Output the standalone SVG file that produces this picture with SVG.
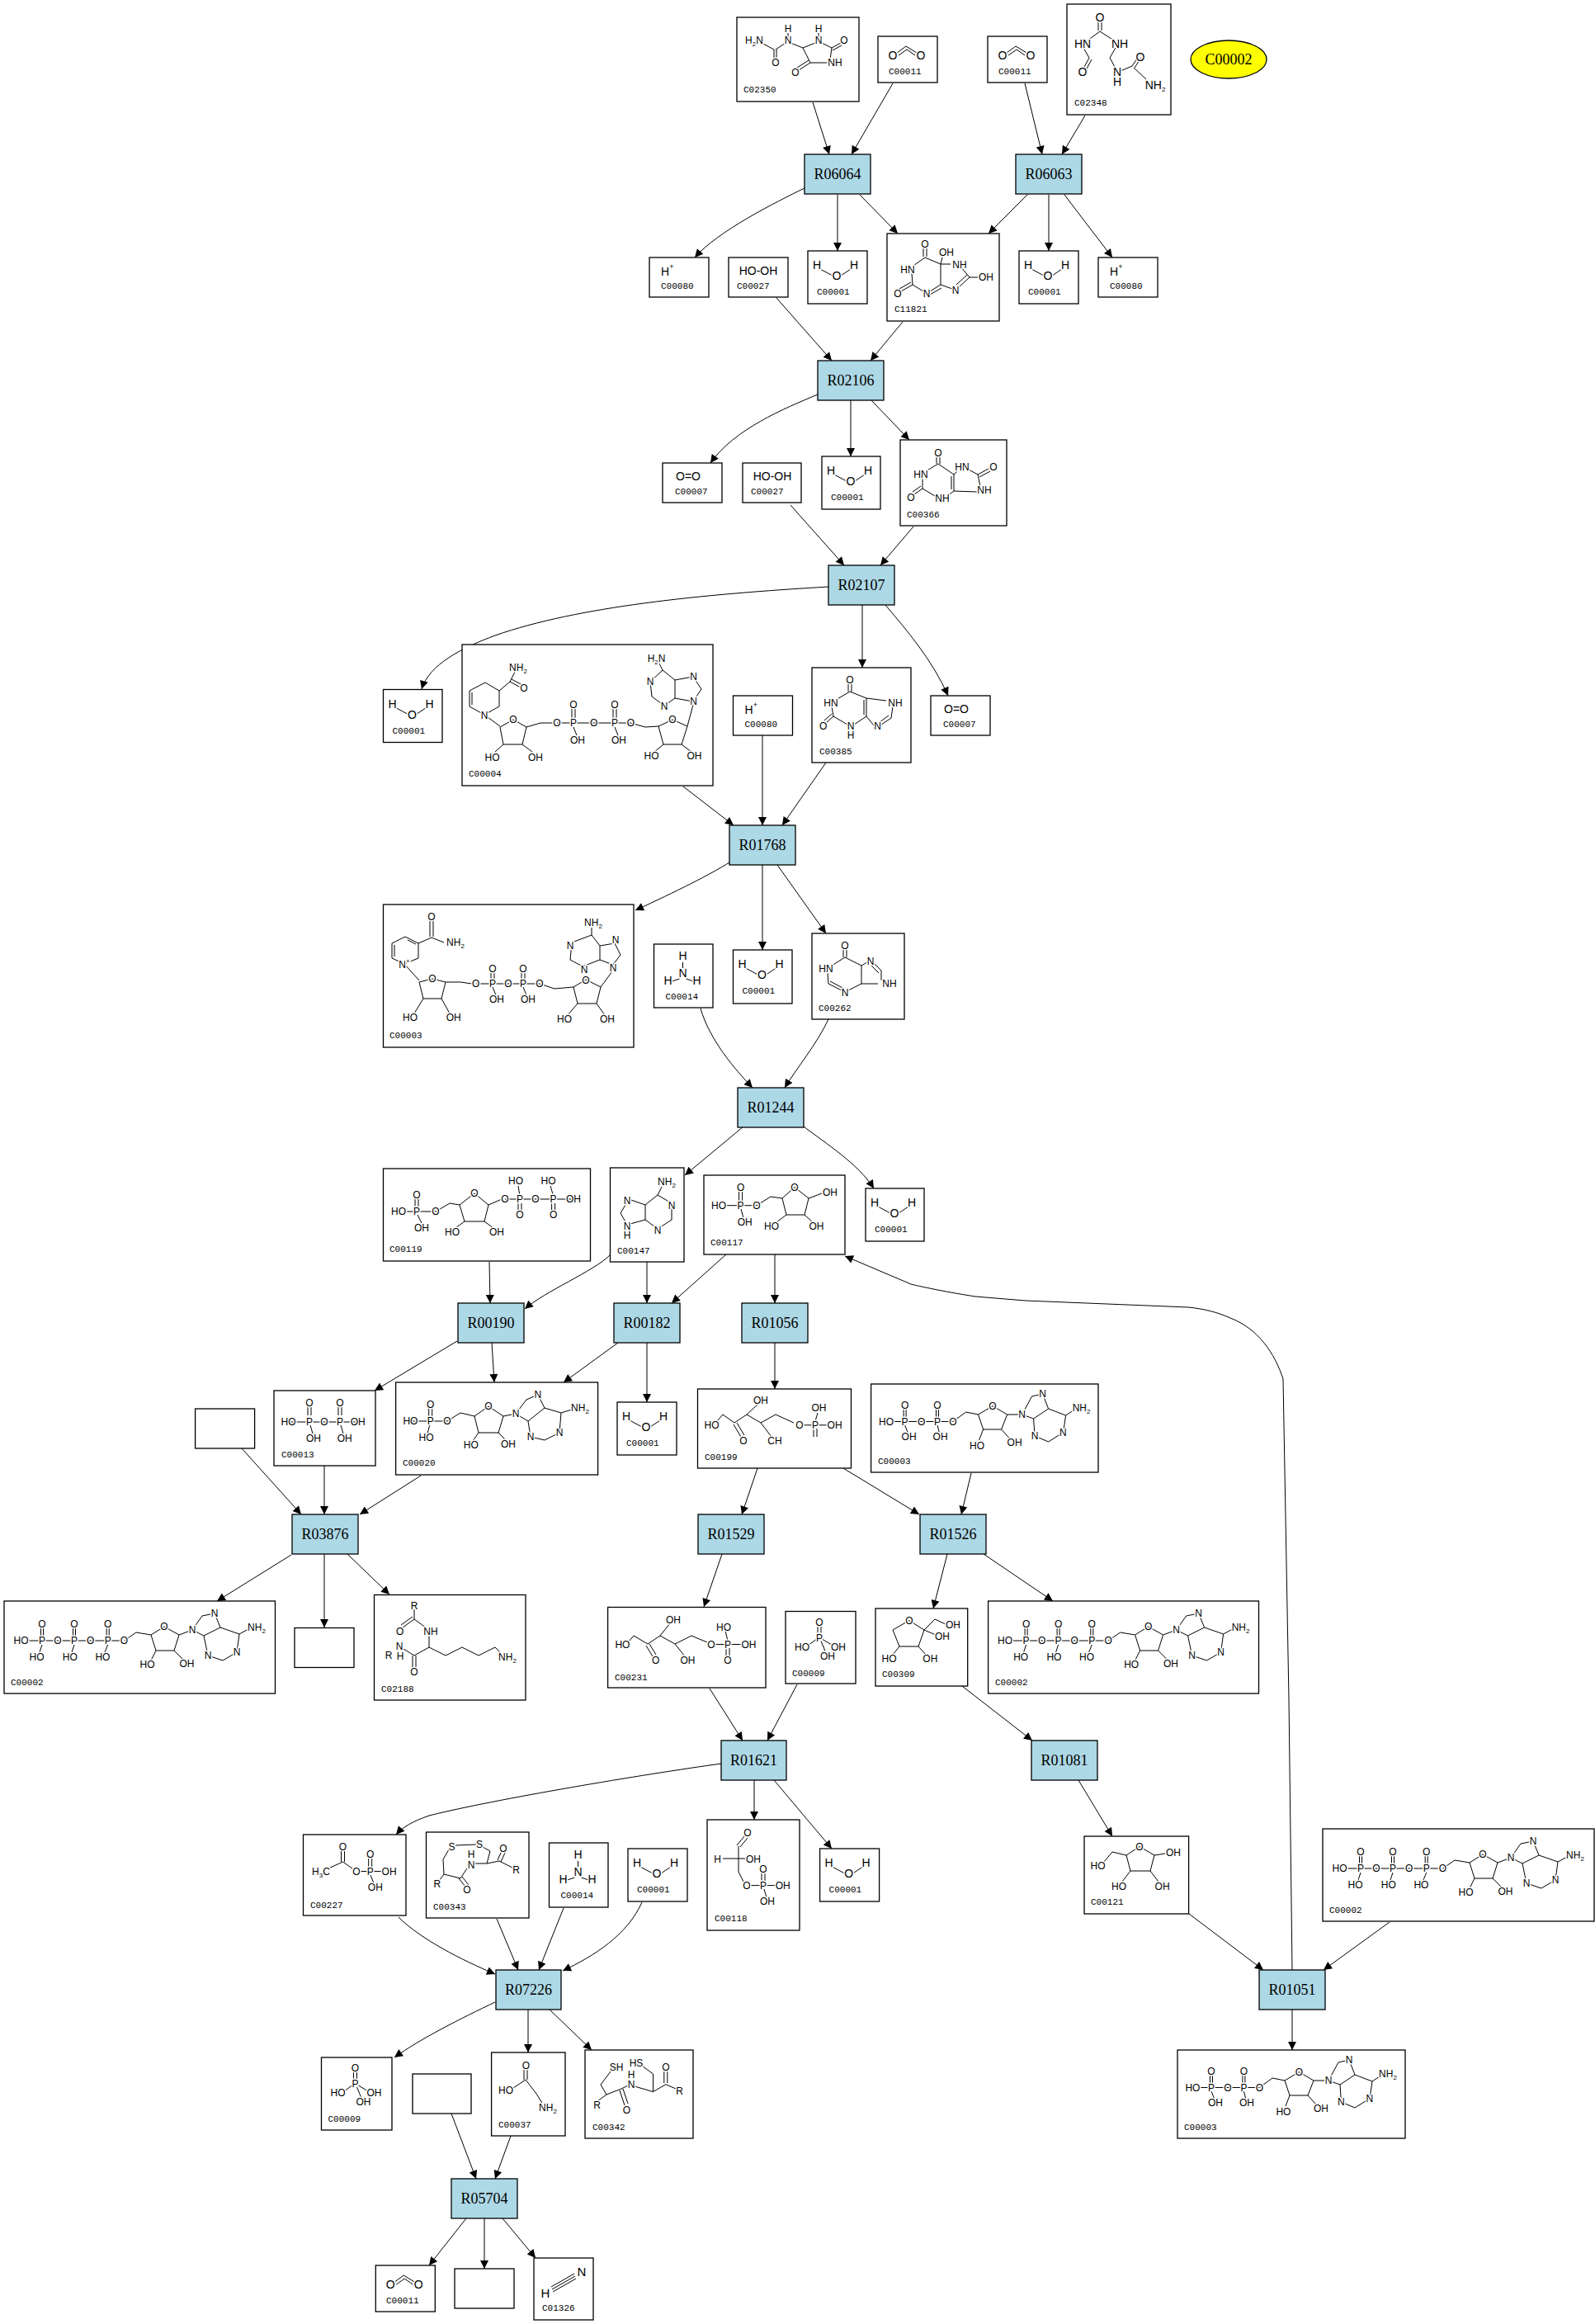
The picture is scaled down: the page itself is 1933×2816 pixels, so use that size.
<svg xmlns="http://www.w3.org/2000/svg" width="1933" height="2816" viewBox="0 0 1933 2816">
<style>
.bg{fill:#fff}
.rn{fill:#add8e6;stroke:#000;stroke-width:1.3}
.cb{fill:#fff;stroke:#000;stroke-width:1.3}
.rt{font-family:"Liberation Serif",serif;font-size:18px;text-anchor:middle;fill:#000}
.lb{font-family:"Liberation Mono",monospace;font-size:11px;fill:#000}
.a{font-family:"Liberation Sans",Arial,sans-serif;font-size:12px;text-anchor:middle;fill:#000;paint-order:stroke;stroke:#fff;stroke-width:3px;stroke-linejoin:round}
.s{font-family:"Liberation Sans",Arial,sans-serif;font-size:14px;text-anchor:middle;fill:#000;paint-order:stroke;stroke:#fff;stroke-width:3px;stroke-linejoin:round}
.b{fill:none;stroke:#000;stroke-width:1}
.e{fill:none;stroke:#000;stroke-width:1}
.sub{font-size:8px}
</style>
<defs>
<marker id="arr" viewBox="0 0 10 10" refX="10" refY="5" markerUnits="userSpaceOnUse" markerWidth="12" markerHeight="10" orient="auto"><path d="M0,0 L10,5 L0,10 z" fill="#000"/></marker>
<g id="h2o"><path class="b" d="M15,22 L30,30 M40,30 L52,22"/><text class="s" x="11" y="22">H</text><text class="s" x="35" y="35">O</text><text class="s" x="56" y="22">H</text></g>
<g id="co2"><path class="b" d="M23,20 L34,12 L47,20 M25,23 L35,16 L45,23"/><text class="s" x="18" y="28">O</text><text class="s" x="52" y="28">O</text></g>
<g id="hp"><text class="s" x="19" y="22">H</text><text class="a" x="27" y="14" style="font-size:9px">+</text></g>
<g id="nh3"><path class="b" d="M35,22 L35,29 M31,42 L22,45 M39,42 L48,45"/><text class="s" x="35" y="19">H</text><text class="s" x="35" y="40">N</text><text class="s" x="17" y="49">H</text><text class="s" x="52" y="49">H</text></g>
<g id="pi"><path class="b" d="M39,17 L39,26 M43,17 L43,26 M37,34 L29,40 M45,34 L55,40 M43,36 L48,48"/><text class="a" x="41" y="17">O</text><text class="a" x="41" y="36">P</text><text class="a" x="20" y="47">HO</text><text class="a" x="64" y="47">OH</text><text class="a" x="51" y="58">OH</text></g>
<g id="atp">
<path class="b" d="M44.5,32 L44.5,43 M47.5,32 L47.5,43 M83.5,32 L83.5,43 M86.5,32 L86.5,43 M124.2,32 L124.2,43 M127.2,32 L127.2,43 M28,48 L140,48 M46,53 L43,62 M85,53 L82,62 M125.7,53 L122,62 M145.5,48 L160,38 L178,41 M194,31 L178,41 L184,60 L206,60 L212,41 Z M184,60 L178,72 M206,60 L217,71 M212,41 L228,35 M228,35 L240,18 L255,15 L262,32 L242,42 Z M262,32 L285,40 L282,62 L265,72 L247,66 L242,42 M285,40 L298,33"/>
<text class="a" x="46" y="31.5">O</text><text class="a" x="85" y="31.5">O</text><text class="a" x="125.7" y="31.5">O</text>
<text class="a" x="20.5" y="52">HO</text><text class="a" x="46" y="52">P</text><text class="a" x="65" y="52">O</text><text class="a" x="85" y="52">P</text><text class="a" x="104.7" y="52">O</text><text class="a" x="125.7" y="52">P</text><text class="a" x="145.5" y="52">O</text>
<text class="a" x="39.6" y="71.5">HO</text><text class="a" x="79.8" y="71.5">HO</text><text class="a" x="119.4" y="71.5">HO</text>
<text class="a" x="194" y="34.7">O</text><text class="a" x="228" y="39">N</text><text class="a" x="255" y="19">N</text><text class="a" x="306" y="36">NH<tspan class="sub" dy="3">2</tspan></text><text class="a" x="282" y="66">N</text><text class="a" x="247" y="70">N</text>
<text class="a" x="173.6" y="81">HO</text><text class="a" x="221.4" y="79.7">OH</text>
</g>
<g id="adp">
<path class="b" d="M39.5,30 L39.5,41 M42.5,30 L42.5,41 M78.9,30 L78.9,41 M81.9,30 L81.9,41 M26,45.5 L99,45.5 M41,50 L45,60 M80.4,50 L83,60 M99.4,45.5 L115,34 L130,37 M147.4,26.6 L130,37 L136,55 L158,55 L165,37 Z M136,55 L131,68 M158,55 L168,66 M165,37 L183,37 M183,37 L195,15 L208,12 L215,30 L197,42 Z M215,30 L236,38 L233,58.7 L215,70 L198.4,63 L197,42 M236,38 L248,30"/>
<text class="a" x="41" y="29.5">O</text><text class="a" x="80.4" y="29.5">O</text>
<text class="a" x="18.4" y="49.5">HO</text><text class="a" x="41" y="49.5">P</text><text class="a" x="61" y="49.5">O</text><text class="a" x="80.4" y="49.5">P</text><text class="a" x="99.4" y="49.5">O</text>
<text class="a" x="46" y="68">OH</text><text class="a" x="84" y="68">OH</text>
<text class="a" x="147.4" y="30.6">O</text><text class="a" x="183" y="41">N</text><text class="a" x="208" y="16">N</text><text class="a" x="255" y="33">NH<tspan class="sub" dy="3">2</tspan></text><text class="a" x="232.8" y="62.7">N</text><text class="a" x="198.4" y="67">N</text>
<text class="a" x="128.4" y="78.8">HO</text><text class="a" x="174" y="75">OH</text>
</g>
</defs>
<rect class="bg" x="0" y="0" width="1933" height="2816"/>

<g id="connectors">
<path class="e" marker-end="url(#arr)" d="M985,124 L1005,187"/>
<path class="e" marker-end="url(#arr)" d="M1082,101 L1032,187"/>
<path class="e" marker-end="url(#arr)" d="M1242,101 L1263,187"/>
<path class="e" marker-end="url(#arr)" d="M1315,140 L1287,187"/>
<path class="e" marker-end="url(#arr)" d="M975,228 C940,245 870,280 842,312"/>
<path class="e" marker-end="url(#arr)" d="M1015,236 L1015,304"/>
<path class="e" marker-end="url(#arr)" d="M1042,236 L1088,283"/>
<path class="e" marker-end="url(#arr)" d="M1245,236 L1198,283"/>
<path class="e" marker-end="url(#arr)" d="M1271,236 L1271,304"/>
<path class="e" marker-end="url(#arr)" d="M1290,236 L1348,312"/>
<path class="e" marker-end="url(#arr)" d="M941,361 L1008,437"/>
<path class="e" marker-end="url(#arr)" d="M1094,390 L1055,437"/>
<path class="e" marker-end="url(#arr)" d="M991,478 C950,495 890,520 861,561"/>
<path class="e" marker-end="url(#arr)" d="M1031,485 L1031,553"/>
<path class="e" marker-end="url(#arr)" d="M1056,485 L1102,533"/>
<path class="e" marker-end="url(#arr)" d="M958,612 L1023,685"/>
<path class="e" marker-end="url(#arr)" d="M1107,638 L1067,685"/>
<path class="e" marker-end="url(#arr)" d="M1004,711 C850,720 700,735 600,770 C560,785 520,805 511,835"/>
<path class="e" marker-end="url(#arr)" d="M1045,733 L1045,809"/>
<path class="e" marker-end="url(#arr)" d="M1073,733 C1100,765 1130,800 1149,843"/>
<path class="e" marker-end="url(#arr)" d="M828,953 L889,1000"/>
<path class="e" marker-end="url(#arr)" d="M924,891 L924,1000"/>
<path class="e" marker-end="url(#arr)" d="M1001,924 L948,1000"/>
<path class="e" marker-end="url(#arr)" d="M884,1045 C860,1060 820,1080 770,1103"/>
<path class="e" marker-end="url(#arr)" d="M924,1048 L924,1151"/>
<path class="e" marker-end="url(#arr)" d="M942,1048 L1001,1131"/>
<path class="e" marker-end="url(#arr)" d="M849,1222 C860,1260 890,1295 912,1318"/>
<path class="e" marker-end="url(#arr)" d="M1004,1235 C990,1265 965,1295 951,1318"/>
<path class="e" marker-end="url(#arr)" d="M901,1365 L830,1424"/>
<path class="e" marker-end="url(#arr)" d="M974,1365 C1000,1385 1040,1410 1059,1440"/>
<path class="e" marker-end="url(#arr)" d="M593,1529 L594,1579"/>
<path class="e" marker-end="url(#arr)" d="M739,1521 C720,1540 660,1565 636,1586"/>
<path class="e" marker-end="url(#arr)" d="M784,1529 L784,1579"/>
<path class="e" marker-end="url(#arr)" d="M880,1520 L814,1579"/>
<path class="e" marker-end="url(#arr)" d="M939,1520 L939,1579"/>
<path class="e" marker-end="url(#arr)" d="M554,1625 L454,1685"/>
<path class="e" marker-end="url(#arr)" d="M596,1627 L599,1675"/>
<path class="e" marker-end="url(#arr)" d="M749,1627 L683,1675"/>
<path class="e" marker-end="url(#arr)" d="M784,1627 L784,1699"/>
<path class="e" marker-end="url(#arr)" d="M939,1627 L939,1683"/>
<path class="e" marker-end="url(#arr)" d="M293,1755 L365,1835"/>
<path class="e" marker-end="url(#arr)" d="M393,1776 L393,1835"/>
<path class="e" marker-end="url(#arr)" d="M510,1788 L436,1835"/>
<path class="e" marker-end="url(#arr)" d="M353,1884 L263,1940"/>
<path class="e" marker-end="url(#arr)" d="M393,1883 L393,1972"/>
<path class="e" marker-end="url(#arr)" d="M421,1883 L472,1932"/>
<path class="e" marker-end="url(#arr)" d="M918,1779 L899,1835"/>
<path class="e" marker-end="url(#arr)" d="M875,1883 L853,1947"/>
<path class="e" marker-end="url(#arr)" d="M1022,1779 L1114,1835"/>
<path class="e" marker-end="url(#arr)" d="M1177,1785 L1165,1835"/>
<path class="e" marker-end="url(#arr)" d="M1148,1883 L1131,1949"/>
<path class="e" marker-end="url(#arr)" d="M1192,1883 L1276,1940"/>
<path class="e" marker-end="url(#arr)" d="M1566,2387 L1562,2060 L1555,1671 C1545,1640 1525,1610 1491,1597 C1475,1590 1460,1586 1440,1584 L1243,1576 L1182,1571 C1150,1566 1120,1560 1104,1556 L1024,1522"/>
<path class="e" marker-end="url(#arr)" d="M860,2046 L900,2109"/>
<path class="e" marker-end="url(#arr)" d="M966,2041 L930,2109"/>
<path class="e" marker-end="url(#arr)" d="M874,2137 C780,2150 600,2180 520,2200 C500,2207 488,2214 480,2223"/>
<path class="e" marker-end="url(#arr)" d="M914,2157 L914,2205"/>
<path class="e" marker-end="url(#arr)" d="M938,2157 L1008,2240"/>
<path class="e" marker-end="url(#arr)" d="M483,2323 C510,2350 560,2375 600,2392"/>
<path class="e" marker-end="url(#arr)" d="M602,2325 L628,2387"/>
<path class="e" marker-end="url(#arr)" d="M683,2312 L653,2387"/>
<path class="e" marker-end="url(#arr)" d="M778,2305 C760,2345 720,2370 682,2388"/>
<path class="e" marker-end="url(#arr)" d="M600,2426 C560,2445 510,2470 478,2493"/>
<path class="e" marker-end="url(#arr)" d="M640,2435 L640,2487"/>
<path class="e" marker-end="url(#arr)" d="M666,2435 L717,2484"/>
<path class="e" marker-end="url(#arr)" d="M547,2561 L577,2640"/>
<path class="e" marker-end="url(#arr)" d="M619,2588 L600,2640"/>
<path class="e" marker-end="url(#arr)" d="M565,2688 L520,2745"/>
<path class="e" marker-end="url(#arr)" d="M587,2688 L587,2749"/>
<path class="e" marker-end="url(#arr)" d="M609,2688 L649,2736"/>
<path class="e" marker-end="url(#arr)" d="M1166,2043 L1251,2109"/>
<path class="e" marker-end="url(#arr)" d="M1307,2157 L1348,2225"/>
<path class="e" marker-end="url(#arr)" d="M1441,2319 L1531,2387"/>
<path class="e" marker-end="url(#arr)" d="M1684,2329 L1604,2387"/>
<path class="e" marker-end="url(#arr)" d="M1566,2435 L1566,2484"/>
</g>

<!-- reactions -->
<g id="R06064"><rect class="rn" x="975" y="187" width="80" height="48"/><text class="rt" x="1015" y="217">R06064</text></g>
<g id="R06063"><rect class="rn" x="1231" y="187" width="80" height="48"/><text class="rt" x="1271" y="217">R06063</text></g>
<g id="R02106"><rect class="rn" x="991" y="437" width="80" height="48"/><text class="rt" x="1031" y="467">R02106</text></g>
<g id="R02107"><rect class="rn" x="1004" y="685" width="80" height="48"/><text class="rt" x="1044" y="715">R02107</text></g>
<g id="R01768"><rect class="rn" x="884" y="1000" width="80" height="48"/><text class="rt" x="924" y="1030">R01768</text></g>
<g id="R01244"><rect class="rn" x="894" y="1318" width="80" height="48"/><text class="rt" x="934" y="1348">R01244</text></g>
<g id="R00190"><rect class="rn" x="555" y="1579" width="80" height="48"/><text class="rt" x="595" y="1609">R00190</text></g>
<g id="R00182"><rect class="rn" x="744" y="1579" width="80" height="48"/><text class="rt" x="784" y="1609">R00182</text></g>
<g id="R01056"><rect class="rn" x="899" y="1579" width="80" height="48"/><text class="rt" x="939" y="1609">R01056</text></g>
<g id="R03876"><rect class="rn" x="354" y="1835" width="80" height="48"/><text class="rt" x="394" y="1865">R03876</text></g>
<g id="R01529"><rect class="rn" x="846" y="1835" width="80" height="48"/><text class="rt" x="886" y="1865">R01529</text></g>
<g id="R01526"><rect class="rn" x="1115" y="1835" width="80" height="48"/><text class="rt" x="1155" y="1865">R01526</text></g>
<g id="R01621"><rect class="rn" x="874" y="2109" width="79" height="48"/><text class="rt" x="913.5" y="2139">R01621</text></g>
<g id="R01081"><rect class="rn" x="1250" y="2109" width="80" height="48"/><text class="rt" x="1290" y="2139">R01081</text></g>
<g id="R07226"><rect class="rn" x="601" y="2387" width="79" height="48"/><text class="rt" x="640.5" y="2417">R07226</text></g>
<g id="R01051"><rect class="rn" x="1526" y="2387" width="80" height="48"/><text class="rt" x="1566" y="2417">R01051</text></g>
<g id="R05704"><rect class="rn" x="547" y="2640" width="80" height="48"/><text class="rt" x="587" y="2670">R05704</text></g>

<g id="C00002_iso"><ellipse cx="1489" cy="72" rx="46" ry="23" fill="#ffff00" stroke="#000" stroke-width="1.3"/><text class="rt" x="1489" y="78">C00002</text></g>

<!-- compounds -->
<g id="C02350"><rect class="cb" x="893" y="21" width="148" height="102"/>
<path class="b" d="M923,52 L938,60 M938,60 L938,72 M941,60 L941,72 M940,60 L952,52 M955,45 L955,40 M958,52 L973,58 L988,52 M992,45 L992,40 M996,52 L1008,58 M1008,58 L1019,52 M1009,61 L1020,55 M1008,58 L1006,72 M1002,76 L982,76 L973,58 M982,76 L968,85 M980,73 L966,82"/>
<text class="a" x="914" y="53">H<tspan class="sub" dy="3">2</tspan><tspan dy="-3">N</tspan></text><text class="a" x="955" y="39">H</text><text class="a" x="955" y="53">N</text><text class="a" x="992" y="39">H</text><text class="a" x="992" y="53">N</text><text class="a" x="1023" y="53">O</text><text class="a" x="1012" y="80">NH</text><text class="a" x="940" y="80">O</text><text class="a" x="964" y="92">O</text>
<text class="lb" x="901" y="112">C02350</text></g>

<g id="C00011_a"><rect class="cb" x="1064" y="44" width="72" height="56"/><use href="#co2" x="1064" y="44"/><text class="lb" x="1077" y="90">C00011</text></g>
<g id="C00011_b"><rect class="cb" x="1197" y="44" width="72" height="56"/><use href="#co2" x="1197" y="44"/><text class="lb" x="1210" y="90">C00011</text></g>

<g id="C02348"><rect class="cb" x="1293" y="5" width="126" height="134"/>
<path class="b" d="M1331,25 L1331,37 M1335,25 L1335,37 M1333,38 L1318,49 M1333,38 L1350,49 M1313,58 L1320,70 M1320,70 L1313,83 M1323,72 L1316,85 M1352,58 L1345,70 L1352,83 M1358,86 L1372,80 M1372,80 L1380,68 M1375,82 L1383,70 M1374,82 L1389,96"/>
<text class="s" x="1333" y="26">O</text><text class="s" x="1312" y="58">HN</text><text class="s" x="1357" y="58">NH</text><text class="s" x="1312" y="92">O</text><text class="s" x="1382" y="74">O</text><text class="s" x="1354" y="92">N</text><text class="s" x="1354" y="104">H</text><text class="s" x="1400" y="108">NH<tspan class="sub" dy="3">2</tspan></text>
<text class="lb" x="1302" y="128">C02348</text></g>

<g id="C00080_a"><rect class="cb" x="787" y="312" width="72" height="48"/><use href="#hp" x="787" y="312"/><text class="lb" x="801" y="350">C00080</text></g>
<g id="C00027_a"><rect class="cb" x="883" y="312" width="72" height="48"/><text class="s" x="919" y="333">HO-OH</text><text class="lb" x="893" y="350">C00027</text></g>
<g id="C00001_a"><rect class="cb" x="979" y="304" width="72" height="64"/><use href="#h2o" x="979" y="304"/><text class="lb" x="990" y="357">C00001</text></g>

<g id="C11821"><rect class="cb" x="1075" y="283" width="136" height="106"/>
<path class="b" d="M1119,300 L1119,311 M1123,300 L1123,311 M1121,312 L1107,322 M1105,331 L1106,345 M1106,345 L1092,353 M1104,342 L1090,350 M1106,345 L1119,353 M1127,353 L1140,345 M1127,357 L1141,349 M1140,345 L1140,320 L1121,312 M1140,320 L1142,312 M1140,320 L1152,320 M1165,324 L1175,336 L1186,336 M1175,336 L1162,348 M1172,333 L1159,345 M1154,350 L1140,345"/>
<text class="a" x="1121" y="300">O</text><text class="a" x="1147" y="310">OH</text><text class="a" x="1163" y="325">NH</text><text class="a" x="1100" y="331">HN</text><text class="a" x="1195" y="340">OH</text><text class="a" x="1088" y="360">O</text><text class="a" x="1123" y="360">N</text><text class="a" x="1158" y="356">N</text>
<text class="lb" x="1084" y="378">C11821</text></g>

<g id="C00001_b"><rect class="cb" x="1235" y="304" width="72" height="64"/><use href="#h2o" x="1235" y="304"/><text class="lb" x="1246" y="357">C00001</text></g>
<g id="C00080_b"><rect class="cb" x="1331" y="312" width="72" height="48"/><use href="#hp" x="1331" y="312"/><text class="lb" x="1345" y="350">C00080</text></g>

<g id="C00007_a"><rect class="cb" x="803" y="561" width="72" height="48"/><text class="s" x="834" y="582">O=O</text><text class="lb" x="818" y="599">C00007</text></g>
<g id="C00027_b"><rect class="cb" x="900" y="561" width="71" height="48"/><text class="s" x="936" y="582">HO-OH</text><text class="lb" x="910" y="599">C00027</text></g>
<g id="C00001_c"><rect class="cb" x="996" y="553" width="71" height="64"/><use href="#h2o" x="996" y="553"/><text class="lb" x="1007" y="606">C00001</text></g>

<g id="C00366"><rect class="cb" x="1091" y="533" width="129" height="104"/>
<path class="b" d="M1135,552 L1135,562 M1139,552 L1139,562 M1137,562 L1122,571 M1118,580 L1118,592 M1118,592 L1108,599 M1116,589 L1106,596 M1118,592 L1133,601 M1148,601 L1156,595 M1156,595 L1156,575 M1153,593 L1153,577 M1156,575 L1137,562 M1156,575 L1160,571 M1172,568 L1185,575 M1185,575 L1198,568 M1187,578 L1200,571 M1185,575 L1188,590 M1184,596 L1156,595"/>
<text class="a" x="1137" y="553">O</text><text class="a" x="1116" y="579">HN</text><text class="a" x="1166" y="570">HN</text><text class="a" x="1204" y="570">O</text><text class="a" x="1193" y="598">NH</text><text class="a" x="1104" y="607">O</text><text class="a" x="1142" y="608">NH</text>
<text class="lb" x="1099" y="627">C00366</text></g>

<g id="C00001_d"><rect class="cb" x="464.5" y="835.5" width="71.5" height="64"/><use href="#h2o" x="464.5" y="835.5"/><text class="lb" x="475.5" y="888.5">C00001</text></g>

<g id="C00004"><rect class="cb" x="560" y="781" width="304" height="171"/>
<path class="b" d="M588,827 L569,837 L569,856 L587,866 L605,856 L605,837 Z M572,839 L572,854 M605,837 L618,826 M618,826 L624,814 M618,826 L631,833 M620,823 L633,830 M587,866 L606,880 M622,872 L606,881 L610,902 L633,902 L638,881 Z M610,902 L600,911 M633,902 L645,911 M638,881 L655,876 L670,876 M675,876 L764,876 M693,859 L693,870 M697,859 L697,870 M743,859 L743,870 M747,859 L747,870 M695,881 L699,891 M745,881 L749,891 M764,876 L782,881 L798,880 M815,872 L798,880 L804,902 L826,902 L833,880 Z M804,902 L793,911 M826,902 L838,911 M833,880 L840,854 M803,812 L788,826 L790,844 L805,855 L818,846 L818,824 Z M818,824 L840,820 L850,835 L840,850 L818,846 M803,812 L798,802"/>
<text class="a" x="628" y="813">NH<tspan class="sub" dy="3">2</tspan></text><text class="a" x="635" y="838">O</text><text class="a" x="587" y="870.5">N</text><text class="a" x="622" y="876">O</text><text class="a" x="675" y="880">O</text><text class="a" x="695" y="880">P</text><text class="a" x="695" y="858">O</text><text class="a" x="700" y="901">OH</text><text class="a" x="719.6" y="880">O</text><text class="a" x="745" y="880">P</text><text class="a" x="745" y="858">O</text><text class="a" x="750" y="901">OH</text><text class="a" x="764.5" y="880">O</text><text class="a" x="815" y="876">O</text><text class="a" x="596.6" y="921.5">HO</text><text class="a" x="649" y="921.5">OH</text><text class="a" x="789.5" y="919.5">HO</text><text class="a" x="841.5" y="919.5">OH</text><text class="a" x="795.6" y="801.5">H<tspan class="sub" dy="3">2</tspan><tspan dy="-3">N</tspan></text><text class="a" x="788" y="830">N</text><text class="a" x="840.5" y="823.6">N</text><text class="a" x="805" y="859.5">N</text><text class="a" x="840.5" y="854">N</text>
<text class="lb" x="568" y="941">C00004</text></g>

<g id="C00080_c"><rect class="cb" x="888.5" y="843" width="72" height="48"/><use href="#hp" x="888.5" y="843"/><text class="lb" x="902.5" y="881">C00080</text></g>

<g id="C00385"><rect class="cb" x="984" y="809" width="120" height="115"/>
<path class="b" d="M1028,827 L1028,838 M1032,827 L1032,838 M1030,838 L1013,848 M1008,856 L1010,868 M1010,868 L1001,876 M1008,865 L999,873 M1010,868 L1027,878 M1035,878 L1050,868 M1050,868 L1050,846 M1047,866 L1047,848 M1050,846 L1030,838 M1050,846 L1074,849 M1082,856 L1080,870 M1080,870 L1068,878 M1077,867 L1066,875 M1059,879 L1050,868"/>
<text class="a" x="1030" y="828">O</text><text class="a" x="1007" y="856">HN</text><text class="a" x="1085" y="856">NH</text><text class="a" x="997.6" y="884">O</text><text class="a" x="1031" y="884">N</text><text class="a" x="1031" y="895">H</text><text class="a" x="1063.5" y="884">N</text>
<text class="lb" x="993" y="914">C00385</text></g>

<g id="C00007_b"><rect class="cb" x="1128" y="843" width="72" height="48"/><text class="s" x="1159" y="864">O=O</text><text class="lb" x="1143" y="881">C00007</text></g>

<g id="C00003_nad"><rect class="cb" x="464.5" y="1096" width="303.5" height="173"/>
<path class="b" d="M491,1135 L507,1143 L507,1161 L490,1168 L475,1161 L475,1143 Z M494,1139 L504,1144 M478,1145 L478,1159 M507,1143 L523,1136 M521,1135 L521,1116 M525,1135 L525,1116 M523,1136 L538,1142 M490,1168 L508,1188 M524,1186 L508,1190 L513,1210 L535,1210 L540,1190 Z M513,1210 L502,1228 M535,1210 L545,1228 M540,1190 L558,1190 L572,1192 M577,1192 L654,1192 M595,1178 L595,1187 M599,1178 L599,1187 M632,1178 L632,1187 M636,1178 L636,1187 M597,1196 L601,1206 M634,1196 L638,1206 M654,1192 L672,1198 L695,1196 M710,1187 L695,1196 L700,1216 L723,1216 L728,1196 Z M700,1216 L688,1230 M723,1216 L733,1230 M728,1196 L742,1177 M717,1133 L693,1142 L691,1163 L706,1171 L727,1163 L727,1146 Z M727,1146 L745,1143 L752,1157 L743,1169 L727,1163 M717,1133 L717,1124"/>
<text class="a" x="523" y="1115">O</text><text class="a" x="552" y="1146">NH<tspan class="sub" dy="3">2</tspan></text><text class="a" x="490" y="1172.6">N<tspan class="sub" dy="-6">+</tspan></text><text class="a" x="524" y="1190">O</text><text class="a" x="576.7" y="1196">O</text><text class="a" x="597" y="1196">P</text><text class="a" x="597" y="1177.6">O</text><text class="a" x="602" y="1214.7">OH</text><text class="a" x="616" y="1196">O</text><text class="a" x="634" y="1196">P</text><text class="a" x="634" y="1177.6">O</text><text class="a" x="640" y="1214.7">OH</text><text class="a" x="654" y="1196">O</text><text class="a" x="710" y="1191.5">O</text><text class="a" x="497" y="1236.5">HO</text><text class="a" x="549.7" y="1236.5">OH</text><text class="a" x="684" y="1238.6">HO</text><text class="a" x="736" y="1238.6">OH</text><text class="a" x="719" y="1122">NH<tspan class="sub" dy="3">2</tspan></text><text class="a" x="691" y="1150">N</text><text class="a" x="746" y="1143">N</text><text class="a" x="708" y="1179">N</text><text class="a" x="743" y="1176.5">N</text>
<text class="lb" x="472" y="1258">C00003</text></g>

<g id="C00014_a"><rect class="cb" x="792.5" y="1144" width="71.5" height="77"/><use href="#nh3" x="792.5" y="1144"/><text class="lb" x="806.5" y="1211">C00014</text></g>
<g id="C00001_e"><rect class="cb" x="888.5" y="1151" width="71.5" height="65"/><use href="#h2o" x="888.5" y="1151"/><text class="lb" x="899.5" y="1204">C00001</text></g>

<g id="C00262"><rect class="cb" x="984" y="1131" width="112" height="104"/>
<path class="b" d="M1022,1150 L1022,1160 M1026,1150 L1026,1160 M1024,1160 L1008,1170 M1003,1179 L1004,1192 M1004,1192 L1020,1200 M1006,1189 L1021,1197 M1028,1200 L1044,1192 M1044,1192 L1044,1170 L1024,1160 M1044,1170 L1051,1166 M1059,1167 L1068,1176 M1056,1170 L1065,1179 M1068,1176 L1068,1188 M1064,1192 L1044,1192"/>
<text class="a" x="1024" y="1150">O</text><text class="a" x="1001" y="1178">HN</text><text class="a" x="1055" y="1169">N</text><text class="a" x="1078" y="1196">NH</text><text class="a" x="1024" y="1206.5">N</text>
<text class="lb" x="992" y="1225">C00262</text></g>

<g id="C00119"><rect class="cb" x="464.5" y="1416" width="251" height="112"/>
<path class="b" d="M503,1453 L503,1463 M507,1453 L507,1463 M490,1468 L528,1468 M506,1472 L511,1482 M528,1468 L545,1458 L557,1460 M575,1446 L557,1460 L563,1480 L587,1480 L592,1460 Z M563,1480 L552,1488 M587,1480 L598,1488 M592,1460 L608,1453 M612,1453 L695,1453 M630,1449 L628,1437 M670.6,1449 L667,1437 M628,1458 L628,1467 M632,1458 L632,1467 M668.6,1458 L668.6,1467 M672.6,1458 L672.6,1467"/>
<text class="a" x="505" y="1452">O</text><text class="a" x="483" y="1472">HO</text><text class="a" x="505" y="1472">P</text><text class="a" x="528" y="1472">O</text><text class="a" x="511" y="1491.5">OH</text><text class="a" x="575" y="1450">O</text><text class="a" x="612" y="1457">O</text><text class="a" x="630" y="1457">P</text><text class="a" x="625" y="1435">HO</text><text class="a" x="630" y="1476">O</text><text class="a" x="649" y="1457">O</text><text class="a" x="670.6" y="1457">P</text><text class="a" x="664.5" y="1435">HO</text><text class="a" x="670.6" y="1476">O</text><text class="a" x="695" y="1457">OH</text><text class="a" x="548" y="1497">HO</text><text class="a" x="602" y="1497">OH</text>
<text class="lb" x="472" y="1517">C00119</text></g>

<g id="C00147"><rect class="cb" x="739.5" y="1415" width="89.5" height="114"/>
<path class="b" d="M797,1448 L814,1458 L814,1478 L797,1489 L782,1478 L782,1460 Z M782,1460 L762,1453 L752,1470 L760,1484 L782,1478 M797,1448 L802,1438"/>
<text class="a" x="808" y="1436">NH<tspan class="sub" dy="3">2</tspan></text><text class="a" x="814" y="1465">N</text><text class="a" x="797" y="1495">N</text><text class="a" x="760" y="1459">N</text><text class="a" x="760" y="1490">N</text><text class="a" x="760" y="1501">H</text>
<text class="lb" x="748" y="1519">C00147</text></g>

<g id="C00117"><rect class="cb" x="853" y="1424" width="171" height="96"/>
<path class="b" d="M895.6,1444 L895.6,1455 M899.6,1444 L899.6,1455 M880,1460.7 L917,1460.7 M898,1465 L901,1476 M917,1460.7 L934,1450 L948,1452 M963,1438.6 L948,1452 L953,1472 L975,1472 L980,1452 Z M980,1452 L996,1446 M953,1472 L941,1481 M975,1472 L985,1481"/>
<text class="a" x="897.6" y="1442.6">O</text><text class="a" x="871" y="1464.7">HO</text><text class="a" x="897.6" y="1464.7">P</text><text class="a" x="917" y="1464.7">O</text><text class="a" x="902.7" y="1485">OH</text><text class="a" x="963" y="1442.6">O</text><text class="a" x="1006" y="1448.6">OH</text><text class="a" x="935" y="1489.7">HO</text><text class="a" x="989.5" y="1489.7">OH</text>
<text class="lb" x="861" y="1509">C00117</text></g>

<g id="C00001_f"><rect class="cb" x="1049" y="1440" width="71" height="64"/><use href="#h2o" x="1049" y="1440"/><text class="lb" x="1060" y="1493">C00001</text></g>

<g id="C00013"><rect class="cb" x="332" y="1685" width="123" height="91"/>
<path class="b" d="M373,1705 L373,1715 M377,1705 L377,1715 M410,1705 L410,1715 M414,1705 L414,1715 M352,1723 L432,1723 M376,1727 L379,1737 M413,1727 L416,1737"/>
<text class="a" x="375" y="1704">O</text><text class="a" x="412" y="1704">O</text><text class="a" x="349.5" y="1727">HO</text><text class="a" x="375" y="1727">P</text><text class="a" x="393" y="1727">O</text><text class="a" x="412" y="1727">P</text><text class="a" x="433.7" y="1727">OH</text><text class="a" x="380" y="1746.5">OH</text><text class="a" x="417.7" y="1746.5">OH</text>
<text class="lb" x="341" y="1766">C00013</text></g>

<g id="C00020"><rect class="cb" x="479.6" y="1675" width="245" height="112"/>
<path class="b" d="M519.7,1706 L519.7,1716 M523.7,1706 L523.7,1716 M500,1722 L542,1722 M521,1726 L518,1737 M542,1722 L558,1712 L575,1716 M592,1704 L575,1716 L580,1736 L604,1736 L610,1716 Z M580,1736 L573,1746 M604,1736 L613,1745 M610,1716 L625,1713 M625,1713 L638,1696 L651.8,1690 L660,1706 L640,1722 Z M660,1706 L680,1712 L678,1736 L660,1745 L643,1741 L640,1722 M680,1712 L696,1707"/>
<text class="a" x="521.7" y="1706">O</text><text class="a" x="497.4" y="1726">HO</text><text class="a" x="521.7" y="1726">P</text><text class="a" x="542" y="1726">O</text><text class="a" x="516.6" y="1746">HO</text><text class="a" x="592" y="1708">O</text><text class="a" x="625" y="1717">N</text><text class="a" x="651.8" y="1693.6">N</text><text class="a" x="703" y="1709.7">NH<tspan class="sub" dy="3">2</tspan></text><text class="a" x="678" y="1740">N</text><text class="a" x="643" y="1745.4">N</text><text class="a" x="570.8" y="1755.4">HO</text><text class="a" x="616" y="1754">OH</text>
<text class="lb" x="488" y="1776">C00020</text></g>

<g id="C00001_g"><rect class="cb" x="748" y="1699" width="72" height="64"/><use href="#h2o" x="748" y="1699"/><text class="lb" x="759" y="1752">C00001</text></g>

<g id="C00199"><rect class="cb" x="845.5" y="1683" width="186" height="96"/>
<path class="b" d="M869,1722 L876,1714 L890,1724 L905,1714 L922,1724 L940,1714 L962,1724 M889,1726 L898,1741 M893,1724 L902,1739 M905,1714 L918,1702 M922,1724 L935,1741 M974,1726.8 L1005,1726.8 M988,1722 L991,1712 M986,1731 L986,1741 M990,1731 L990,1741"/>
<text class="a" x="922" y="1700.8">OH</text><text class="a" x="992.5" y="1710.4">OH</text><text class="a" x="862.6" y="1730.8">HO</text><text class="a" x="969" y="1730.8">O</text><text class="a" x="988" y="1730.8">P</text><text class="a" x="1011.6" y="1730.8">OH</text><text class="a" x="901" y="1750.4">O</text><text class="a" x="939" y="1750.4">CH</text>
<text class="lb" x="854" y="1769">C00199</text></g>

<g id="C00003_adp_a"><rect class="cb" x="1055.6" y="1677" width="275.4" height="107"/><use href="#adp" x="1055.6" y="1677"/><text class="lb" x="1064" y="1774">C00003</text></g>

<g id="empty_a"><rect class="cb" x="236.6" y="1707" width="72" height="48"/></g>

<g id="C00002_a"><rect class="cb" x="5" y="1940" width="328.5" height="112"/><use href="#atp" x="5" y="1940"/><text class="lb" x="13" y="2042">C00002</text></g>
<g id="empty_b"><rect class="cb" x="357" y="1972.5" width="72" height="48"/></g>

<g id="C02188"><rect class="cb" x="453.5" y="1932.5" width="183.5" height="127.5"/>
<path class="b" d="M502,1950 L502,1962 M502,1962 L488,1972 M500,1959 L486,1969 M502,1962 L516,1972 M520,1982 L520,1996 M520,1996 L502,2006 M500,2006 L500,2020 M504,2006 L504,2020 M502,2006 L489,1998 M520,1996 L540,2006 L560,1996 L580,2006 L600,1996 L607,2003"/>
<text class="a" x="502" y="1950">R</text><text class="a" x="484.7" y="1981">O</text><text class="a" x="522" y="1981">NH</text><text class="a" x="484" y="1999">N</text><text class="a" x="471" y="2009.7">R</text><text class="a" x="485" y="2011">H</text><text class="a" x="615" y="2011.5">NH<tspan class="sub" dy="3">2</tspan></text><text class="a" x="502" y="2030">O</text>
<text class="lb" x="462" y="2050">C02188</text></g>

<g id="C00231"><rect class="cb" x="736.6" y="1947.5" width="191.4" height="97.5"/>
<path class="b" d="M761,1990 L768,1982 L785,1992 L800,1982 L818,1992 L838,1982 L857,1990 M783,1994 L791,2007 M787,1992 L795,2005 M800,1982 L812,1967 M818,1992 L830,2007 M867,1992.5 L900,1992.5 M882,1988 L879,1976 M880,1997 L880,2007 M884,1997 L884,2007"/>
<text class="a" x="816" y="1967">OH</text><text class="a" x="877" y="1976">HO</text><text class="a" x="754.4" y="1996.5">HO</text><text class="a" x="862" y="1996.5">O</text><text class="a" x="882" y="1996.5">P</text><text class="a" x="907.5" y="1996.5">OH</text><text class="a" x="794.6" y="2016">O</text><text class="a" x="833.5" y="2016">OH</text><text class="a" x="882" y="2016">O</text>
<text class="lb" x="745" y="2036">C00231</text></g>

<g id="C00009_a"><rect class="cb" x="952" y="1952.5" width="85" height="87.5"/><use href="#pi" x="952" y="1952.5"/><text class="lb" x="960" y="2030.5">C00009</text></g>

<g id="C00309"><rect class="cb" x="1061" y="1949" width="111.7" height="94"/>
<path class="b" d="M1101.8,1963.6 L1120,1975 L1113,1995 L1090,1995 L1082,1975 Z M1120,1975 L1134,1981 M1120,1975 L1133,1962 L1146,1968 M1113,1995 L1122,2005 M1090,1995 L1082,2005"/>
<text class="a" x="1101.8" y="1967.6">O</text><text class="a" x="1155" y="1973">OH</text><text class="a" x="1142" y="1987">OH</text><text class="a" x="1077.6" y="2013.6">HO</text><text class="a" x="1127.3" y="2013.6">OH</text>
<text class="lb" x="1069" y="2032">C00309</text></g>

<g id="C00002_b"><rect class="cb" x="1197.6" y="1940" width="327.9" height="112"/><use href="#atp" x="1197.6" y="1940"/><text class="lb" x="1206" y="2042">C00002</text></g>

<g id="C00227"><rect class="cb" x="367.5" y="2223" width="124.5" height="98"/>
<path class="b" d="M398,2264 L415.5,2256 M413.5,2256 L413.5,2243 M417.5,2256 L417.5,2243 M415.5,2256 L427,2264 M436,2267.5 L466,2267.5 M446.7,2252 L446.7,2263 M450.7,2252 L450.7,2263 M449,2272 L453,2282"/>
<text class="a" x="415.5" y="2242">O</text><text class="a" x="448.7" y="2251">O</text><text class="a" x="389" y="2271.5">H<tspan class="sub" dy="3">3</tspan><tspan dy="-3">C</tspan></text><text class="a" x="431.8" y="2271.5">O</text><text class="a" x="448.7" y="2271.5">P</text><text class="a" x="471.6" y="2271.5">OH</text><text class="a" x="454.8" y="2291">OH</text>
<text class="lb" x="376" y="2312">C00227</text></g>

<g id="C00343"><rect class="cb" x="516.5" y="2220" width="124.5" height="104"/>
<path class="b" d="M544,2241 L537,2253 L538,2271 L558,2276 L566,2264 M576,2258 L590,2258 L594,2243 L585,2238 M552,2236 L577,2235 M556,2276 L564,2286 M560,2274 L568,2284 M538,2271 L532,2279 M590,2258 L605,2255 M603,2254 L608,2243 M607,2256 L612,2245 M605,2255 L621,2263"/>
<text class="a" x="547.6" y="2241.5">S</text><text class="a" x="581" y="2239">S</text><text class="a" x="571" y="2251">H</text><text class="a" x="571" y="2263.6">N</text><text class="a" x="610" y="2244">O</text><text class="a" x="625.7" y="2269.7">R</text><text class="a" x="529.8" y="2287">R</text><text class="a" x="566" y="2294">O</text>
<text class="lb" x="525" y="2314">C00343</text></g>

<g id="C00014_b"><rect class="cb" x="665.5" y="2233" width="71.5" height="78"/><use href="#nh3" x="665.5" y="2233"/><text class="lb" x="679.5" y="2300">C00014</text></g>
<g id="C00001_h"><rect class="cb" x="761" y="2240" width="72" height="64"/><use href="#h2o" x="761" y="2240"/><text class="lb" x="772" y="2293">C00001</text></g>

<g id="C00118"><rect class="cb" x="857" y="2205" width="112" height="134"/>
<path class="b" d="M893,2236 L902,2225 M897,2238 L906,2227 M895,2237 L895,2268 M895,2252 L876,2252 M895,2252 L904,2252 M895,2268 L901,2280 M909,2284.6 L942,2284.6 M923,2270 L923,2279 M927,2270 L927,2279 M926,2289 L929,2299"/>
<text class="a" x="906" y="2225.4">O</text><text class="a" x="869.6" y="2256.5">H</text><text class="a" x="913" y="2256.5">OH</text><text class="a" x="925" y="2269">O</text><text class="a" x="905" y="2288.6">O</text><text class="a" x="925" y="2288.6">P</text><text class="a" x="948.7" y="2288.6">OH</text><text class="a" x="930" y="2308">OH</text>
<text class="lb" x="866" y="2328">C00118</text></g>

<g id="C00001_i"><rect class="cb" x="993.6" y="2240" width="72" height="64"/><use href="#h2o" x="993.6" y="2240"/><text class="lb" x="1004.6" y="2293">C00001</text></g>

<g id="C00121"><rect class="cb" x="1314" y="2225" width="126.6" height="94"/>
<path class="b" d="M1381,2237.5 L1365,2248 L1370,2267 L1394,2267 L1399,2248 Z M1399,2248 L1412,2246 M1365,2248 L1348,2244 L1338,2256 M1370,2267 L1360,2280 M1394,2267 L1404,2280"/>
<text class="a" x="1381" y="2241.5">O</text><text class="a" x="1422" y="2249.4">OH</text><text class="a" x="1330.6" y="2265.4">HO</text><text class="a" x="1356" y="2290.4">HO</text><text class="a" x="1408.6" y="2290.4">OH</text>
<text class="lb" x="1322" y="2308">C00121</text></g>

<g id="C00002_c"><rect class="cb" x="1603" y="2216" width="329" height="112"/><use href="#atp" x="1603" y="2216"/><text class="lb" x="1611" y="2318">C00002</text></g>

<g id="C00009_b"><rect class="cb" x="389.5" y="2493" width="85.5" height="88"/><use href="#pi" x="389.5" y="2493"/><text class="lb" x="397.5" y="2571">C00009</text></g>
<g id="empty_c"><rect class="cb" x="500" y="2513" width="71" height="48"/></g>

<g id="C00037"><rect class="cb" x="595.6" y="2487" width="89.4" height="101"/>
<path class="b" d="M635,2508 L635,2520 M639,2508 L639,2520 M637,2520 L622,2530 M637,2520 L650,2537 L657,2548"/>
<text class="a" x="637.4" y="2506.5">O</text><text class="a" x="613" y="2537">HO</text><text class="a" x="664" y="2558">NH<tspan class="sub" dy="3">2</tspan></text>
<text class="lb" x="604" y="2578">C00037</text></g>

<g id="C00342"><rect class="cb" x="709" y="2484" width="131" height="107"/>
<path class="b" d="M740,2510 L728,2526 L735,2538 M735,2538 L724,2546 M735,2538 L753,2531 M751,2533 L757,2551 M755,2531 L761,2549 M753,2531 L761,2527 M769,2528 L791.5,2534.6 M791.5,2534.6 L791.5,2513 L778,2503 M791.5,2534.6 L806.8,2525.7 M804.8,2524 L804.8,2510 M808.8,2524 L808.8,2510 M806.8,2525.7 L819,2531"/>
<text class="a" x="747" y="2509">SH</text><text class="a" x="771" y="2503.6">HS</text><text class="a" x="806.8" y="2509">O</text><text class="a" x="765" y="2518">H</text><text class="a" x="765" y="2529.7">N</text><text class="a" x="823.7" y="2538">R</text><text class="a" x="723.7" y="2554.7">R</text><text class="a" x="759.4" y="2560.8">O</text>
<text class="lb" x="718" y="2581">C00342</text></g>

<g id="C00003_adp_b"><rect class="cb" x="1427" y="2484" width="276" height="107"/><use href="#adp" x="1427" y="2484"/><text class="lb" x="1435" y="2581">C00003</text></g>

<g id="C00011_c"><rect class="cb" x="455.3" y="2745" width="72" height="56"/><use href="#co2" x="455.3" y="2745"/><text class="lb" x="468" y="2791">C00011</text></g>
<g id="empty_d"><rect class="cb" x="551" y="2749" width="72" height="48"/></g>
<g id="C01326"><rect class="cb" x="647" y="2736" width="72" height="75"/>
<path class="b" d="M669,2774 L697,2758 M668,2771 L696,2755 M670,2777 L698,2761"/>
<text class="s" x="661" y="2784" style="font-size:15px">H</text><text class="s" x="705" y="2758" style="font-size:15px">N</text>
<text class="lb" x="657" y="2800">C01326</text></g>
</svg>
